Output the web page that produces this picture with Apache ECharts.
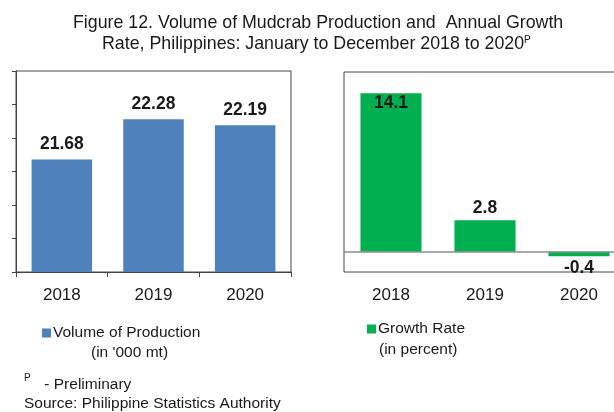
<!DOCTYPE html>
<html>
<head>
<meta charset="utf-8">
<script src="https://cdn.jsdelivr.net/npm/echarts@6/dist/echarts.min.js"></script>
<style>
  html, body { margin: 0; padding: 0; background: #fff; }
  #chart { width: 614px; height: 412px; }
</style>
</head>
<body>
<div id="chart"></div>
<script>
// data
const years = ['2018', '2019', '2020']
const volume = [21.68, 22.28, 22.19]     // '000 mt
const growth = [14.1, 2.8, -0.4]         // percent

const font = 'Liberation Sans, Arial, sans-serif'
const ink = '#1a1a1a'

const chart = echarts.init(document.getElementById('chart'))

const option = {
    animation: false,
    textStyle: { fontFamily: font },
    grid: [
        { left: 16, top: 71, width: 275, bottom: 140, show: true, borderColor: '#444', borderWidth: 1 },
        // right panel runs past the edge of the picture, as in the original
        {
            left: 344, top: 72, width: 282, bottom: 140, show: true, borderColor: '#444', borderWidth: 1,
            outerBoundsMode: 'none'
        }
    ],
    xAxis: [
        {
            gridIndex: 0, type: 'category', data: years,
            axisLine: { lineStyle: { color: '#444' } },
            axisTick: { show: true, length: 5, lineStyle: { color: '#444' } },
            axisLabel: { color: ink, fontSize: 17, margin: 15, fontFamily: font }
        },
        {
            gridIndex: 1, type: 'category', data: years,
            axisLine: { show: false, onZero: false },
            axisTick: { show: false },
            axisLabel: { color: ink, fontSize: 17, margin: 15, fontFamily: font }
        }
    ],
    yAxis: [
        {
            gridIndex: 0, type: 'value', min: 20, max: 23, interval: 0.5,
            axisLine: { show: true, lineStyle: { color: '#444' } },
            axisTick: { show: true, length: 4, lineStyle: { color: '#444' } },
            axisLabel: { show: false },
            splitLine: { show: false }
        },
        {
            gridIndex: 1, type: 'value', min: -1.8, max: 16,
            axisLine: { show: false },
            axisTick: { show: false },
            axisLabel: { show: false },
            splitLine: { show: false }
        }
    ],
    legend: [
        {
            data: ['Volume of Production'], left: 37, top: 320,
            icon: 'rect', itemWidth: 9, itemHeight: 9, itemGap: 0,
            textStyle: { color: ink, fontSize: 15.5, fontFamily: font, padding: [0, 0, 0, -3] }
        },
        {
            data: ['Growth Rate'], left: 362, top: 316,
            icon: 'rect', itemWidth: 9, itemHeight: 9, itemGap: 0,
            textStyle: { color: ink, fontSize: 15.5, fontFamily: font, padding: [0, 0, 0, -3] }
        }
    ],
    series: [
        {
            name: 'Volume of Production', type: 'bar',
            xAxisIndex: 0, yAxisIndex: 0,
            data: volume, barCategoryGap: '34%',
            itemStyle: { color: '#4F81BD' },
            label: {
                show: true, position: 'top', distance: 6,
                color: ink, fontSize: 17.5, fontWeight: 'bold', fontFamily: font
            }
        },
        {
            name: 'Growth Rate', type: 'bar',
            xAxisIndex: 1, yAxisIndex: 1,
            data: growth.map((v, i) => ({
                value: v,
                label: { position: i === 0 ? 'insideTop' : (v < 0 ? 'bottom' : 'top'), distance: i === 0 ? 1 : 3 }
            })),
            barCategoryGap: '35%',
            itemStyle: { color: '#00B050' },
            label: {
                show: true, color: ink, fontSize: 17.5, fontWeight: 'bold', fontFamily: font
            },
            markLine: {
                silent: true, symbol: 'none',
                label: { show: false },
                lineStyle: { color: '#8c8c8c', type: 'solid', width: 1.5 },
                data: [{ yAxis: 0 }]
            }
        }
    ],
    graphic: [
        {
            type: 'text', left: 73, top: 14,
            style: {
                text: 'Figure 12. Volume of Mudcrab Production and  Annual Growth',
                font: '17.8px ' + font, fill: ink
            }
        },
        {
            type: 'text', left: 102, top: 35,
            style: {
                text: 'Rate, Philippines: January to December 2018 to 2020{sup|P}',
                font: '17.8px ' + font, fill: ink,
                rich: { sup: { fontSize: 10, verticalAlign: 'top', padding: [0, 0, 9, 0], fill: ink } }
            }
        },
        {
            type: 'text', left: 91, top: 345,
            style: { text: "(in '000 mt)", font: '15.5px ' + font, fill: ink }
        },
        {
            type: 'text', left: 379, top: 342,
            style: { text: '(in percent)', font: '15.5px ' + font, fill: ink }
        },
        {
            type: 'text', left: 24, top: 373,
            style: { text: 'P', font: '10px ' + font, fill: ink }
        },
        {
            type: 'text', left: 40, top: 377,
            style: { text: ' - Preliminary', font: '15.5px ' + font, fill: ink }
        },
        {
            type: 'text', left: 24, top: 396,
            style: { text: 'Source: Philippine Statistics Authority', font: '15.5px ' + font, fill: ink }
        }
    ]
}

chart.setOption(option)
</script>
</body>
</html>
